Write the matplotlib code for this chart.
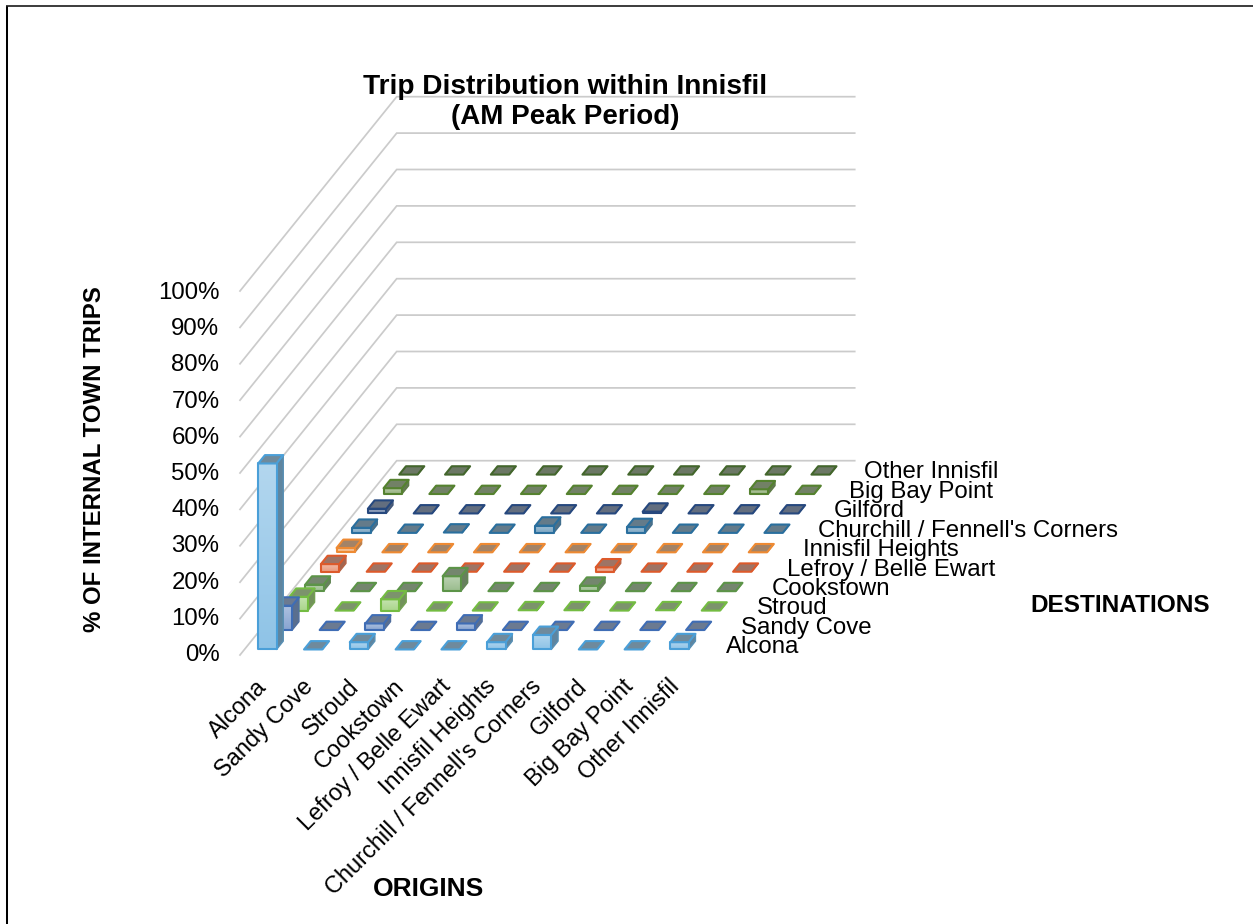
#!/usr/bin/env python3
import matplotlib
matplotlib.use('Agg')
import matplotlib.pyplot as plt
from matplotlib.colors import to_rgb
from matplotlib.patches import Polygon, Rectangle
import numpy as np

plt.rcParams['font.family'] = ['Liberation Sans', 'DejaVu Sans']

origins = ['Alcona', 'Sandy Cove', 'Stroud', 'Cookstown', 'Lefroy / Belle Ewart',
           'Innisfil Heights', "Churchill / Fennell's Corners", 'Gilford',
           'Big Bay Point', 'Other Innisfil']
destinations = list(origins)
pct_ticks = [0, 10, 20, 30, 40, 50, 60, 70, 80, 90, 100]

# share of internal trips, one list per destination, ordered by origin
to_alcona = [51.1, 0, 2.0, 0, 0, 2.0, 4.0, 0, 0, 2.0]
to_sandy_cove = [6.7, 0, 1.8, 0, 1.8, 0, 0, 0, 0, 0]
to_stroud = [3.8, 0, 3.1, 0, 0, 0.1, 0.1, 0, 0.1, 0]
to_cookstown = [1.8, 0, 0, 4.1, 0, 0, 1.5, 0, 0, 0]
to_lefroy = [2.1, 0, 0, 0, 0, 0, 1.2, 0, 0, 0]
to_innisfil_heights = [1.2, 0, 0, 0, 0, 0, 0, 0, 0, 0]
to_churchill = [1.4, 0, 0.1, 0, 2.0, 0, 1.6, 0, 0, 0]
to_gilford = [1.3, 0, 0, 0, 0, 0, 0.5, 0, 0, 0]
to_big_bay = [1.6, 0, 0, 0, 0, 0, 0, 0, 1.3, 0]
to_other = [0, 0, 0, 0, 0, 0, 0, 0, 0, 0]

trips = [to_alcona, to_sandy_cove, to_stroud, to_cookstown, to_lefroy,
         to_innisfil_heights, to_churchill, to_gilford, to_big_bay, to_other]

series_colors = ['#4A9FD8', '#3F6DB5', '#74BC42', '#5C9448', '#DD5A2B',
                 '#EE8A33', '#2A6F9E', '#26487E', '#55822F', '#43662C']

# oblique projection of the chart box onto the figure, in pixels
ORIGIN_X, ORIGIN_Y = 240.0, 655.0
COL_DX = 45.8
ROW_DX, ROW_DY = 15.67, -19.43
PCT_DY = -3.64
BAR_W = 0.40
BAR_D = 0.43


def project(col, row, pct=0.0):
    return (ORIGIN_X + COL_DX * col + ROW_DX * row,
            ORIGIN_Y + ROW_DY * row + PCT_DY * pct)


def mix(color, other, amount):
    return tuple(np.array(to_rgb(color)) * (1 - amount) + np.array(to_rgb(other)) * amount)


def draw_bar(ax, col, row, pct, color, z):
    x0, x1 = col + 0.5 - BAR_W / 2, col + 0.5 + BAR_W / 2
    y0, y1 = row + 0.5 - BAR_D / 2, row + 0.5 + BAR_D / 2
    edge = {'edgecolor': color, 'linewidth': 1.5, 'joinstyle': 'round', 'zorder': z}

    side = [project(x1, y0, 0), project(x1, y1, 0), project(x1, y1, pct), project(x1, y0, pct)]
    ax.add_patch(Polygon(side, facecolor=mix(color, '#707070', 0.55),
                         edgecolor=mix(color, '#707070', 0.35), linewidth=1.0,
                         joinstyle='round', zorder=z))

    if pct > 0.3:
        # front face fades slightly from top to bottom
        left, bottom = project(x0, y0, 0)
        right, top = project(x1, y0, pct)
        light = mix(color, 'white', 0.58)
        dark = mix(color, 'white', 0.38)
        ramp = np.linspace(light, dark, 32).reshape(32, 1, 3)
        ax.imshow(ramp, extent=(left, right, bottom, top), aspect='auto',
                  interpolation='bilinear', zorder=z)
        ax.add_patch(Rectangle((left, bottom), right - left, top - bottom,
                               facecolor='none', **edge))

    lid = [project(x0, y0, pct), project(x1, y0, pct), project(x1, y1, pct), project(x0, y1, pct)]
    ax.add_patch(Polygon(lid, facecolor=mix(color, '#808080', 0.68), **edge))


fig = plt.figure(figsize=(12.53, 9.24), dpi=100)
ax = fig.add_axes([0, 0, 1, 1])
ax.set_xlim(0, 1253)
ax.set_ylim(924, 0)
ax.axis('off')

# frame around the chart area, open on the right and at the bottom
ax.plot([7, 7], [924, 5.8], color='black', lw=1.45, solid_capstyle='butt')
ax.plot([6, 1253], [5.8, 5.8], color='#1a1a1a', lw=1.2, solid_capstyle='butt')

# walls: gridlines on the left side and across the back
for pct in pct_ticks:
    front = project(0, 0, pct)
    corner = project(0, 10, pct)
    end = project(10, 10, pct)
    ax.plot([front[0], corner[0], end[0]], [front[1], corner[1], end[1]],
            color='#CBCBCB', lw=1.25, solid_joinstyle='miter')
    ax.text(front[0] - 20.5, ORIGIN_Y - 3.62 * pct, f'{pct}%', ha='right', va='center',
            fontsize=17.3, color='black')

z = 3
for row in range(len(destinations) - 1, -1, -1):
    for col in range(len(origins)):
        draw_bar(ax, col, row, trips[row][col], series_colors[row], z)
        z += 1

ax.set_xlim(0, 1253)
ax.set_ylim(924, 0)

for col, name in enumerate(origins):
    x, y = project(col + 0.5, 0, 0)
    ax.text(x + 0.5, y + 28, name, rotation=45, rotation_mode='anchor',
            ha='right', va='center', fontsize=16.9, color='black', zorder=z)

for row, name in enumerate(destinations):
    x, y = project(10, row + 0.5, 0)
    ax.text(x + 20 - 0.3 * row, y + 2, name, ha='left', va='center', fontsize=17.3,
            color='black', zorder=z)

ax.text(565.5, 86.5, 'Trip Distribution within Innisfil', ha='center', va='center',
        fontsize=20.2, fontweight='bold', zorder=z)
ax.text(565, 117, '(AM Peak Period)', ha='center', va='center', fontsize=20, fontweight='bold', zorder=z)
ax.text(95, 459.5, '% OF INTERNAL TOWN TRIPS', rotation=90, ha='center', va='center',
        fontsize=17.25, fontweight='bold')
ax.text(428.5, 889, 'ORIGINS', ha='center', va='center', fontsize=19, fontweight='bold')
ax.text(1120, 605.5, 'DESTINATIONS', ha='center', va='center', fontsize=17.6, fontweight='bold')

fig.savefig('out.png', dpi=100)
